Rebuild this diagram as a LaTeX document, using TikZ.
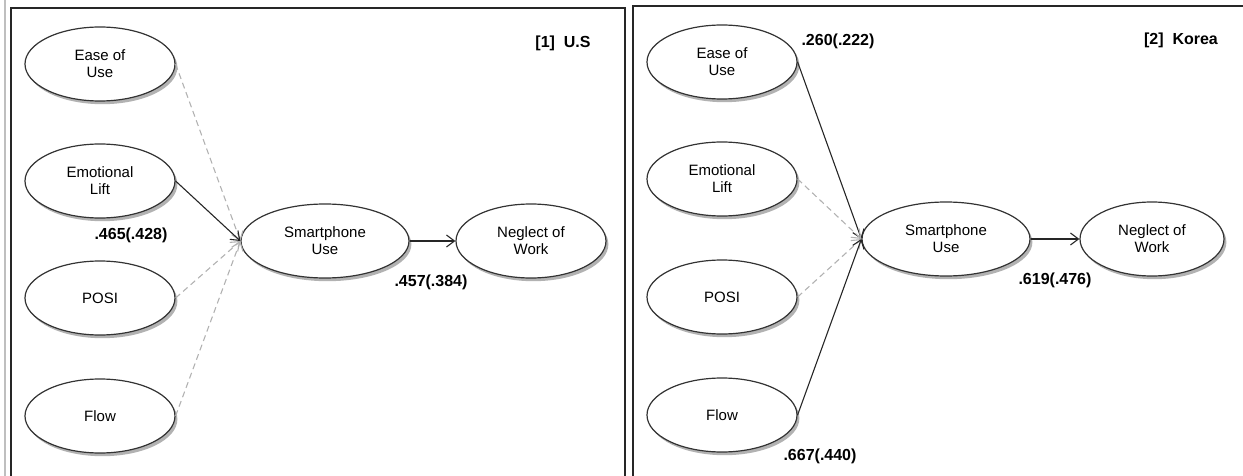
\documentclass[tikz,border=0pt]{standalone}
\usepackage{fontspec}
\setmainfont{Liberation Sans}
\usetikzlibrary{shapes.geometric,shadows,arrows.meta}
\begin{document}
\begin{tikzpicture}[x=0.5pt,y=-0.5pt,
  var/.style={ellipse, draw=black!80, line width=0.6pt, fill=white,
    minimum width=75pt, minimum height=37pt, inner sep=0pt, align=center,
    font=\fontsize{7.5}{8.5}\selectfont,
    drop shadow={shadow xshift=1.2pt,shadow yshift=-1.6pt,opacity=0.5,fill=black!60}},
  wide/.style={minimum width=84pt},
  sig/.style={draw=black!85, line width=0.55pt, -{Straight Barb[length=4pt,width=6pt]}},
  ns/.style={draw=black!30, dash pattern=on 3pt off 2pt, line width=0.55pt,
    -{Straight Barb[length=4pt,width=6pt]}},
  coef/.style={font=\bfseries\fontsize{8}{9}\selectfont, inner sep=0pt},
  frame/.style={draw=black!85, line width=0.8pt}]
\useasboundingbox (0,0) rectangle (1243,476);
% frames
\draw[black!25, line width=0.6pt] (5,0) -- (5,476);
\draw[frame] (11,476) -- (11,8) -- (625,8) -- (625,476);
\draw[frame] (633,476) -- (633,6) -- (1243,6);
% left panel
\node[var] (le) at (100,64) {Ease of\\Use};
\node[var] (ll) at (100,181) {Emotional\\Lift};
\node[var] (lp) at (100,298) {POSI};
\node[var] (lf) at (100,416) {Flow};
\node[var, wide] (ls) at (325,241) {Smartphone\\Use};
\node[var] (ln) at (531,241) {Neglect of\\Work};
\draw[ns] (le.east) -- (ls.west);
\draw[sig] (ll.east) -- (ls.west);
\draw[ns] (lp.east) -- (ls.west);
\draw[ns] (lf.east) -- (ls.west);
\draw[sig] (ls.east) -- (ln.west);
\node[coef] (c1) at (131,235) {.465(.428)};
\node[coef] (c2) at (431,282) {.457(.384)};
\node[coef] (t1) at (563,43) {[1]\ \ U.S};
% right panel
\node[var] (re) at (722,62) {Ease of\\Use};
\node[var] (rl) at (722,179) {Emotional\\Lift};
\node[var] (rp) at (722,297) {POSI};
\node[var] (rf) at (722,415) {Flow};
\node[var, wide] (rs) at (946,239) {Smartphone\\Use};
\node[var, minimum width=72pt] (rn) at (1152,239) {Neglect of\\Work};
\draw[sig] (re.east) -- (rs.west);
\draw[ns] (rl.east) -- (rs.west);
\draw[ns] (rp.east) -- (rs.west);
\draw[sig] (rf.east) -- (rs.west);
\draw[sig] (rs.east) -- (rn.west);
\node[coef] (c3) at (838,41) {.260(.222)};
\node[coef] (c4) at (1055,280) {.619(.476)};
\node[coef] (c5) at (820,456) {.667(.440)};
\node[coef] (t2) at (1181,40) {[2]\ \ Korea};
\end{tikzpicture}
\end{document}
